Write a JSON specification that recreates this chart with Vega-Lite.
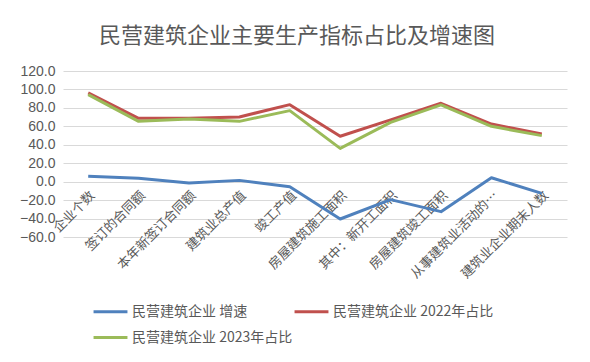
{
  "$schema": "https://vega.github.io/schema/vega-lite/v6.json",
  "width": 504,
  "height": 166,
  "autosize": "none",
  "padding": {"left": 63, "top": 71, "right": 23, "bottom": 125},
  "background": "white",
  "title": {
    "text": "民营建筑企业主要生产指标占比及增速图",
    "font": "Noto Sans CJK SC",
    "fontSize": 22,
    "fontWeight": "normal",
    "color": "#595959",
    "anchor": "middle",
    "dx": -18,
    "offset": 16
  },
  "data": {
    "values": [
      {"category": "企业个数", "series": "民营建筑企业 增速", "value": 5.8},
      {"category": "签订的合同额", "series": "民营建筑企业 增速", "value": 3.6},
      {"category": "本年新签订合同额", "series": "民营建筑企业 增速", "value": -1.4},
      {"category": "建筑业总产值", "series": "民营建筑企业 增速", "value": 1.4},
      {"category": "竣工产值", "series": "民营建筑企业 增速", "value": -5.4},
      {"category": "房屋建筑施工面积", "series": "民营建筑企业 增速", "value": -40.5},
      {"category": "其中：新开工面积", "series": "民营建筑企业 增速", "value": -19.5},
      {"category": "房屋建筑竣工面积", "series": "民营建筑企业 增速", "value": -32.5},
      {"category": "从事建筑业活动的…", "series": "民营建筑企业 增速", "value": 4.3},
      {"category": "建筑业企业期末人数", "series": "民营建筑企业 增速", "value": -12.7},
      {"category": "企业个数", "series": "民营建筑企业 2022年占比", "value": 96.2},
      {"category": "签订的合同额", "series": "民营建筑企业 2022年占比", "value": 68.7},
      {"category": "本年新签订合同额", "series": "民营建筑企业 2022年占比", "value": 68.7},
      {"category": "建筑业总产值", "series": "民营建筑企业 2022年占比", "value": 70.2},
      {"category": "竣工产值", "series": "民营建筑企业 2022年占比", "value": 83.5},
      {"category": "房屋建筑施工面积", "series": "民营建筑企业 2022年占比", "value": 49.2},
      {"category": "其中：新开工面积", "series": "民营建筑企业 2022年占比", "value": 67.0},
      {"category": "房屋建筑竣工面积", "series": "民营建筑企业 2022年占比", "value": 85.0},
      {"category": "从事建筑业活动的…", "series": "民营建筑企业 2022年占比", "value": 62.5},
      {"category": "建筑业企业期末人数", "series": "民营建筑企业 2022年占比", "value": 51.7},
      {"category": "企业个数", "series": "民营建筑企业 2023年占比", "value": 94.4},
      {"category": "签订的合同额", "series": "民营建筑企业 2023年占比", "value": 65.4},
      {"category": "本年新签订合同额", "series": "民营建筑企业 2023年占比", "value": 68.0},
      {"category": "建筑业总产值", "series": "民营建筑企业 2023年占比", "value": 65.4},
      {"category": "竣工产值", "series": "民营建筑企业 2023年占比", "value": 77.0},
      {"category": "房屋建筑施工面积", "series": "民营建筑企业 2023年占比", "value": 36.1},
      {"category": "其中：新开工面积", "series": "民营建筑企业 2023年占比", "value": 64.3},
      {"category": "房屋建筑竣工面积", "series": "民营建筑企业 2023年占比", "value": 83.2},
      {"category": "从事建筑业活动的…", "series": "民营建筑企业 2023年占比", "value": 60.0},
      {"category": "建筑业企业期末人数", "series": "民营建筑企业 2023年占比", "value": 49.9}
    ]
  },
  "mark": {"type": "line", "strokeWidth": 3, "strokeJoin": "round"},
  "encoding": {
    "x": {
      "field": "category",
      "type": "nominal",
      "sort": null,
      "scale": {"type": "point", "padding": 0.5},
      "axis": {
        "title": null,
        "orient": "bottom",
        "offset": -56,
        "domain": false,
        "ticks": false,
        "grid": false,
        "labelAngle": -45,
        "labelAlign": "right",
        "labelBaseline": "middle",
        "labelPadding": 12,
        "labelOffset": 4,
        "labelFont": "Noto Sans CJK SC",
        "labelFontSize": 13,
        "labelColor": "#595959",
        "labelOverlap": false,
        "labelLimit": 300
      }
    },
    "y": {
      "field": "value",
      "type": "quantitative",
      "scale": {"domain": [-60, 120], "nice": false, "zero": false},
      "axis": {
        "title": null,
        "values": [-60, -40, -20, 0, 20, 40, 60, 80, 100, 120],
        "format": ".1f",
        "domain": false,
        "ticks": false,
        "labelPadding": 8,
        "labelFont": "Liberation Sans",
        "labelFontSize": 14,
        "labelColor": "#595959",
        "gridColor": "#d9d9d9",
        "gridWidth": 1
      }
    },
    "color": {
      "field": "series",
      "type": "nominal",
      "sort": ["民营建筑企业 增速", "民营建筑企业 2022年占比", "民营建筑企业 2023年占比"],
      "scale": {
        "domain": ["民营建筑企业 增速", "民营建筑企业 2022年占比", "民营建筑企业 2023年占比"],
        "range": ["#4F81BD", "#C0504D", "#9BBB59"]
      },
      "legend": {
        "title": null,
        "orient": "none",
        "legendX": 29,
        "legendY": 222,
        "direction": "horizontal",
        "columns": 2,
        "columnPadding": -12,
        "rowPadding": -12,
        "symbolType": "stroke",
        "symbolSize": 1150,
        "symbolStrokeWidth": 3,
        "labelFont": "Noto Sans CJK SC",
        "labelFontSize": 14,
        "labelColor": "#595959",
        "labelOffset": 3,
        "labelLimit": 300
      }
    }
  },
  "config": {"view": {"stroke": null}}
}
